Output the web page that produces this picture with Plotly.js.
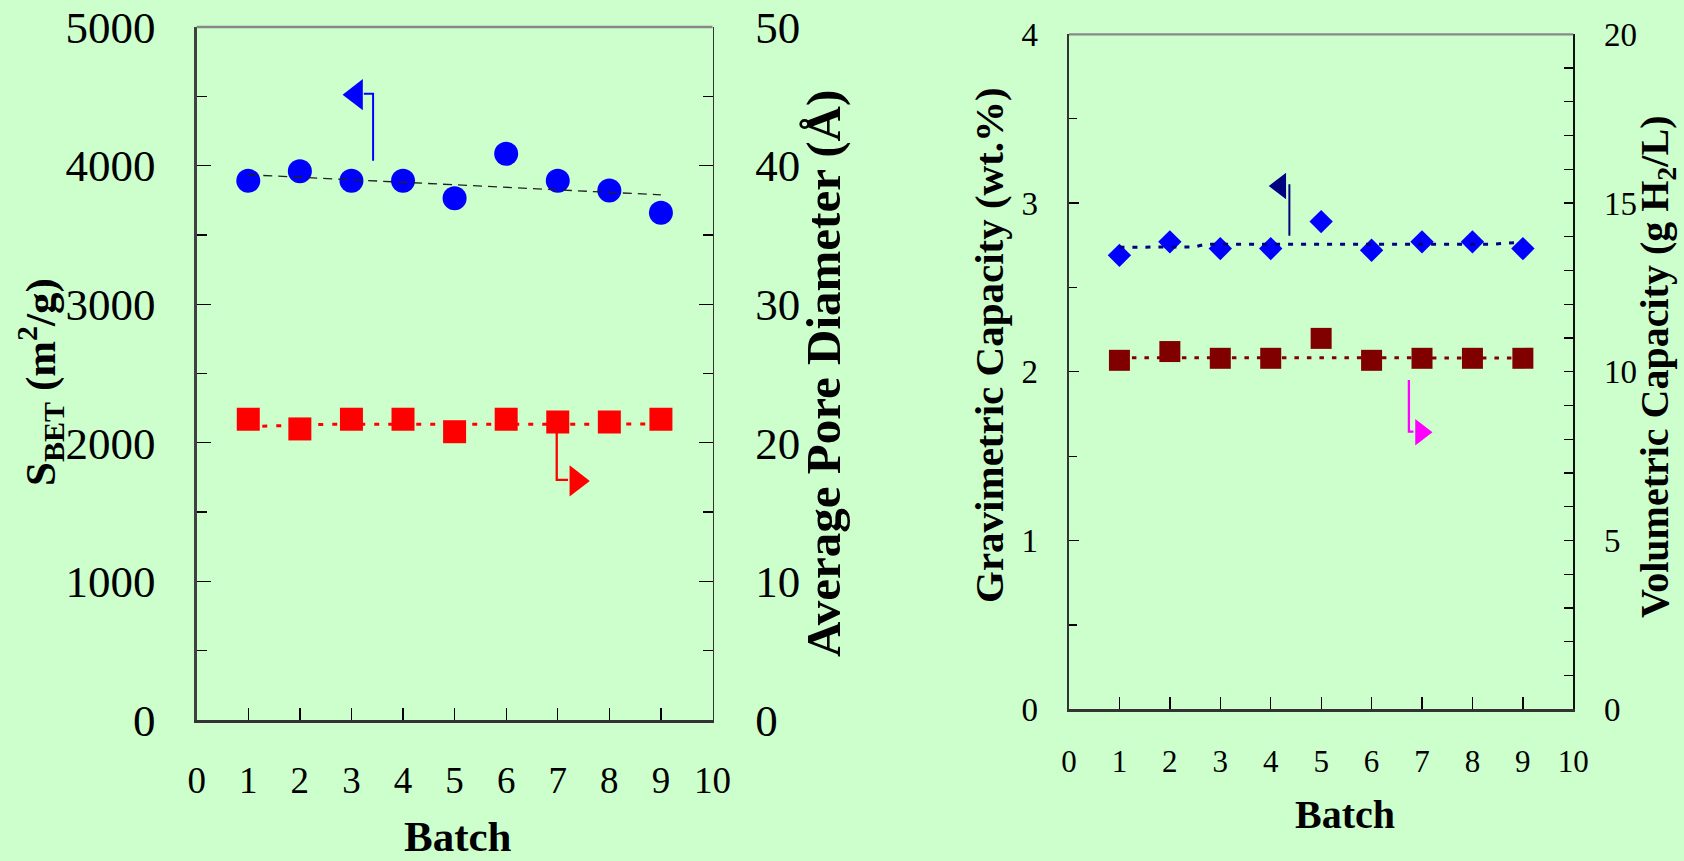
<!DOCTYPE html>
<html>
<head>
<meta charset="utf-8">
<script src="https://cdn.plot.ly/plotly-3.0.1.min.js"></script>
<style>
html,body{margin:0;padding:0;background:#CCFFCC;}
#chart{width:1684px;height:861px;}
</style>
</head>
<body>
<div id="chart"></div>
<script>
// ---------- data ----------
const batch = [1, 2, 3, 4, 5, 6, 7, 8, 9];
const sBET = [3890, 3960, 3890, 3890, 3765, 4085, 3890, 3820, 3660];
const poreDiameter = [21.7, 21.0, 21.7, 21.7, 20.8, 21.7, 21.5, 21.5, 21.7];
const sBETTrendX = [1, 9];
const sBETTrendY = [3934, 3789];
const poreTrendX = [1, 2.5, 9];
const poreTrendY = [21.17, 21.33, 21.35];

const gravimetric = [2.69, 2.77, 2.73, 2.73, 2.89, 2.72, 2.77, 2.77, 2.73];
const volumetric = [10.34, 10.60, 10.40, 10.40, 10.99, 10.34, 10.40, 10.40, 10.40];
const gravTrendX = [1, 2.5, 2.7, 8.4, 9];
const gravTrendY = [2.738, 2.740, 2.756, 2.756, 2.769];
const volTrendX = [1, 9];
const volTrendY = [10.42, 10.41];

// axis-pointer arrows (data coordinates)
const sBETArrowX = [3.42, 3.42, 3.24];
const sBETArrowY = [4035, 4519, 4519];
const sBETArrowHeadX = [3.09];
const sBETArrowHeadY = [4512];
const poreArrowX = [6.98, 6.98, 7.2];
const poreArrowY = [21.5, 17.32, 17.32];
const poreArrowHeadX = [7.36];
const poreArrowHeadY = [17.25];
const gravArrowX = [4.37, 4.37];
const gravArrowY = [2.806, 3.111];
const gravArrowHeadX = [4.19];
const gravArrowHeadY = [3.101];
const volArrowX = [6.74, 6.74, 6.83];
const volArrowY = [9.76, 8.23, 8.23];
const volArrowHeadX = [6.98];
const volArrowHeadY = [8.21];

// tick labels
const batchTicks = [0, 1, 2, 3, 4, 5, 6, 7, 8, 9, 10];
const sBETTicks = [0, 1000, 2000, 3000, 4000, 5000];
const poreTicks = [0, 10, 20, 30, 40, 50];
const gravTicks = [0, 1, 2, 3, 4];
const volTicks = [0, 5, 10, 15, 20];

// ---------- styling ----------
const FONT = 'Liberation Serif, "Times New Roman", serif';
const BG = '#CCFFCC';
const W = 1684, H = 861;
const px = v => v / W;
const py = v => 1 - v / H;

const traces = [
  // left chart
  {x: poreTrendX, y: poreTrendY, xaxis: 'x', yaxis: 'y2', mode: 'lines',
   line: {color: '#FF0000', width: 3, dash: '5px,9px'}},
  {x: batch, y: sBET, xaxis: 'x', yaxis: 'y', mode: 'markers',
   marker: {symbol: 'circle', size: 24, color: '#0000FF', line: {width: 0}}},
  {x: batch, y: poreDiameter, xaxis: 'x', yaxis: 'y2', mode: 'markers',
   marker: {symbol: 'square', size: 23, color: '#FF0000', line: {width: 0}}},
  {x: sBETTrendX, y: sBETTrendY, xaxis: 'x', yaxis: 'y', mode: 'lines',
   line: {color: '#222222', width: 1.3, dash: '9px,6px'}},
  {x: sBETArrowX, y: sBETArrowY, xaxis: 'x', yaxis: 'y', mode: 'lines',
   line: {color: '#0000FF', width: 2}},
  {x: sBETArrowHeadX, y: sBETArrowHeadY, xaxis: 'x', yaxis: 'y', mode: 'markers',
   marker: {symbol: 'triangle-left', size: 27, color: '#0000FF', line: {width: 0}}},
  {x: poreArrowX, y: poreArrowY, xaxis: 'x', yaxis: 'y2', mode: 'lines',
   line: {color: '#FF0000', width: 2.3}},
  {x: poreArrowHeadX, y: poreArrowHeadY, xaxis: 'x', yaxis: 'y2', mode: 'markers',
   marker: {symbol: 'triangle-right', size: 27, color: '#FF0000', line: {width: 0}}},

  // right chart
  {x: volTrendX, y: volTrendY, xaxis: 'x2', yaxis: 'y4', mode: 'lines',
   line: {color: '#800000', width: 3, dash: '4.5px,8px'}},
  {x: batch, y: gravimetric, xaxis: 'x2', yaxis: 'y3', mode: 'markers',
   marker: {symbol: 'diamond', size: 18, color: '#0000FF', line: {width: 0}}},
  {x: batch, y: volumetric, xaxis: 'x2', yaxis: 'y4', mode: 'markers',
   marker: {symbol: 'square', size: 21, color: '#800000', line: {width: 0}}},
  {x: gravTrendX, y: gravTrendY, xaxis: 'x2', yaxis: 'y3', mode: 'lines',
   line: {color: '#000080', width: 3, dash: '5px,8px'}},
  {x: gravArrowX, y: gravArrowY, xaxis: 'x2', yaxis: 'y3', mode: 'lines',
   line: {color: '#000080', width: 2}},
  {x: gravArrowHeadX, y: gravArrowHeadY, xaxis: 'x2', yaxis: 'y3', mode: 'markers',
   marker: {symbol: 'triangle-left', size: 23, color: '#000080', line: {width: 0}}},
  {x: volArrowX, y: volArrowY, xaxis: 'x2', yaxis: 'y4', mode: 'lines',
   line: {color: '#FF00FF', width: 2.3}},
  {x: volArrowHeadX, y: volArrowHeadY, xaxis: 'x2', yaxis: 'y4', mode: 'markers',
   marker: {symbol: 'triangle-right', size: 23, color: '#FF00FF', line: {width: 0}}}
];

function xAxis(domain, anchor, fontSize, standoff) {
  return {
    domain: domain, anchor: anchor, range: [0, 10],
    tickvals: batchTicks, ticktext: batchTicks.map(String),
    ticks: 'inside', ticklen: 12, tickwidth: 1.3, tickcolor: '#000',
    showline: true, linecolor: '#333333', linewidth: 2.5,
    showgrid: false, zeroline: false,
    tickfont: {family: FONT, size: fontSize, color: '#000'},
    ticklabelstandoff: standoff, fixedrange: true
  };
}

const layout = {
  width: W, height: H,
  margin: {l: 0, r: 0, t: 0, b: 0},
  paper_bgcolor: BG, plot_bgcolor: BG,
  showlegend: false,
  font: {family: FONT, color: '#000'},
  xaxis: xAxis([px(196.7), px(712.5)], 'y', 37, 26),
  yaxis: {
    domain: [py(720), py(27)], anchor: 'x', range: [0, 5000],
    tickvals: sBETTicks, ticktext: sBETTicks.map(String),
    ticks: 'inside', ticklen: 14, tickwidth: 1.3, tickcolor: '#000',
    minor: {dtick: 500, ticks: 'inside', ticklen: 10, tickwidth: 1.3, tickcolor: '#000'},
    showline: true, linecolor: '#404040', linewidth: 2.3,
    showgrid: false, zeroline: false,
    tickfont: {family: FONT, size: 45, color: '#000'},
    ticklabelstandoff: 30
  },
  yaxis2: {
    overlaying: 'y', side: 'right', anchor: 'x', range: [0, 50],
    tickvals: poreTicks, ticktext: poreTicks.map(String),
    ticks: 'inside', ticklen: 14, tickwidth: 1.3, tickcolor: '#000',
    minor: {dtick: 5, ticks: 'inside', ticklen: 10, tickwidth: 1.3, tickcolor: '#000'},
    showline: true, linecolor: '#333333', linewidth: 1.8,
    showgrid: false, zeroline: false,
    tickfont: {family: FONT, size: 45, color: '#000'},
    ticklabelstandoff: 32
  },
  xaxis2: xAxis([px(1069), px(1573.3)], 'y3', 31, 23),
  yaxis3: {
    domain: [py(709.3), py(34.3)], anchor: 'x2', range: [0, 4],
    tickvals: gravTicks, ticktext: gravTicks.map(String),
    ticks: 'inside', ticklen: 10, tickwidth: 1.3, tickcolor: '#000',
    minor: {dtick: 0.5, ticks: 'inside', ticklen: 8, tickwidth: 1.3, tickcolor: '#000'},
    showline: true, linecolor: '#333333', linewidth: 2.3,
    showgrid: false, zeroline: false,
    tickfont: {family: FONT, size: 33, color: '#000'},
    ticklabelstandoff: 22
  },
  yaxis4: {
    overlaying: 'y3', side: 'right', anchor: 'x2', range: [0, 20],
    tickvals: volTicks, ticktext: volTicks.map(String),
    ticks: 'inside', ticklen: 9, tickwidth: 1.3, tickcolor: '#000',
    minor: {dtick: 1, ticks: 'inside', ticklen: 9, tickwidth: 1.3, tickcolor: '#000'},
    showline: true, linecolor: '#111111', linewidth: 2,
    showgrid: false, zeroline: false,
    tickfont: {family: FONT, size: 33, color: '#000'},
    ticklabelstandoff: 22
  },
  shapes: [
    {type: 'line', xref: 'x domain', yref: 'y domain', x0: 0, x1: 1, y0: 1, y1: 1,
     line: {color: '#888888', width: 2.3}},
    {type: 'line', xref: 'x2 domain', yref: 'y3 domain', x0: 0, x1: 1, y0: 1, y1: 1,
     line: {color: '#888888', width: 2.3}}
  ],
  annotations: [
    {text: '<b>S<sub>BET</sub> (m<sup>2</sup>/g)</b>', xref: 'paper', yref: 'paper',
     x: px(40), y: py(382), xanchor: 'center', yanchor: 'middle', textangle: -90,
     showarrow: false, font: {family: FONT, size: 43, color: '#000'}},
    {text: '<b>Average Pore Diameter (Å)</b>', xref: 'paper', yref: 'paper',
     x: px(823), y: py(374), xanchor: 'center', yanchor: 'middle', textangle: -90,
     showarrow: false, font: {family: FONT, size: 49, color: '#000'}},
    {text: '<b>Batch</b>', xref: 'paper', yref: 'paper',
     x: px(458), y: py(836), xanchor: 'center', yanchor: 'middle',
     showarrow: false, font: {family: FONT, size: 43, color: '#000'}},
    {text: '<b>Gravimetric Capacity (wt.%)</b>', xref: 'paper', yref: 'paper',
     x: px(989), y: py(345), xanchor: 'center', yanchor: 'middle', textangle: -90,
     showarrow: false, font: {family: FONT, size: 41, color: '#000'}},
    {text: '<b>Volumetric Capacity (g H<sub>2</sub>/L)</b>', xref: 'paper', yref: 'paper',
     x: px(1657), y: py(367), xanchor: 'center', yanchor: 'middle', textangle: -90,
     showarrow: false, font: {family: FONT, size: 40, color: '#000'}},
    {text: '<b>Batch</b>', xref: 'paper', yref: 'paper',
     x: px(1345), y: py(814), xanchor: 'center', yanchor: 'middle',
     showarrow: false, font: {family: FONT, size: 40, color: '#000'}}
  ]
};

Plotly.newPlot('chart', traces, layout, {staticPlot: true, displayModeBar: false});
</script>
</body>
</html>
